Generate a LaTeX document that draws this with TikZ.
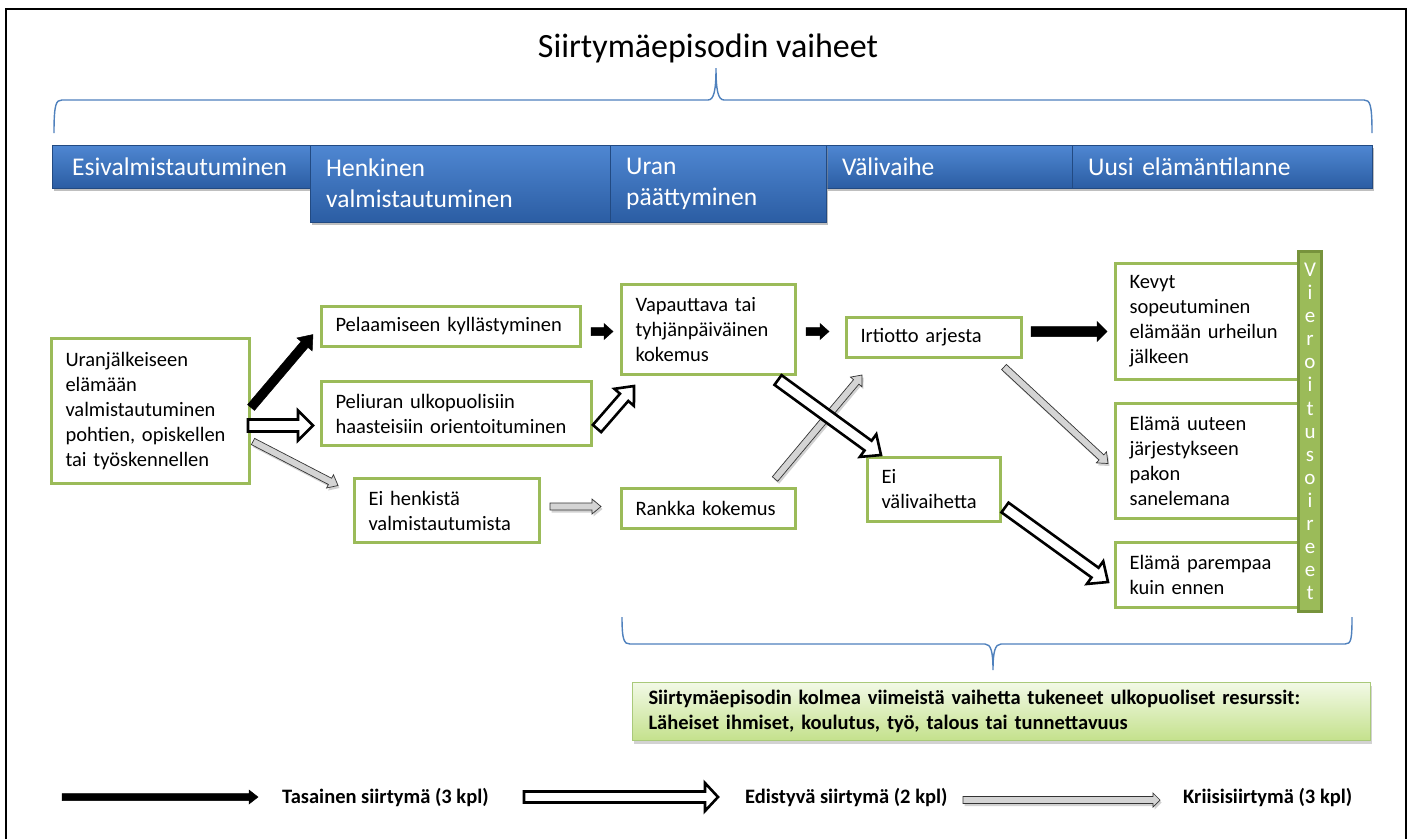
\documentclass[tikz,border=0pt]{standalone}
\usepackage{fontspec}
\setmainfont{Carlito}
\usetikzlibrary{calc,shadows}
\definecolor{ggreen}{HTML}{9BBB59}
\definecolor{gdark}{HTML}{77933C}
\definecolor{bluetop}{HTML}{4F87D2}
\definecolor{bluebot}{HTML}{2B5DA3}
\definecolor{bracecol}{HTML}{4F81BD}
\definecolor{boxtop}{HTML}{F2F9E6}
\definecolor{boxbot}{HTML}{C4E18C}
\definecolor{boxborder}{HTML}{A9C97A}
\newcommand\nodefnt{\fontsize{20.5}{25}\selectfont}
\newcommand\headfnt{\fontsize{25.5}{31}\selectfont}
\newcommand\titlefnt{\fontsize{34}{40}\selectfont}
\newcommand\boldfnt{\fontsize{20.5}{25}\selectfont\bfseries}
\newcommand\vfnt{\fontsize{21}{23.1}\selectfont}
% block arrow: start, end, half shaft, half head, head length, style
\newcommand\blockarr[6]{%
  \path[#6] let \p1=(#1), \p2=(#2),
    \n1={atan2(\y2-\y1,\x2-\x1)},
    \n2={veclen(\x2-\x1,\y2-\y1)} in
    [shift={(\p1)}, rotate=\n1]
    (0,#3) -- ({\n2-#5},#3) -- ({\n2-#5},#4) -- (\n2,0)
    -- ({\n2-#5},-#4) -- ({\n2-#5},-#3) -- (0,-#3) -- cycle;}
\begin{document}
\begin{tikzpicture}[x=1pt,y=-1pt,
  gbox/.style={draw=ggreen, line width=3pt, fill=white, anchor=north west,
    align=left, inner xsep=14pt, inner ysep=0pt, font=\nodefnt},
  hbar/.style={anchor=north west, align=left, inner xsep=16pt, inner ysep=0pt,
    top color=bluetop, bottom color=bluebot, draw=bluebot!80!black, line width=0.4pt,
    text=white, font=\headfnt,
    drop shadow={shadow xshift=1.5pt, shadow yshift=-3pt, fill=black!45, opacity=0.55}},
  vbar/.style={anchor=north west, minimum width=23pt, minimum height=360pt,
    fill=ggreen, draw=gdark, line width=3pt, text=white, align=center,
    font=\vfnt, inner sep=0pt},
  rbox/.style={anchor=north west, align=left, inner xsep=16pt, inner ysep=0pt,
    top color=boxtop, bottom color=boxbot, draw=boxborder, line width=1pt,
    font=\boldfnt,
    drop shadow={shadow xshift=1.5pt, shadow yshift=-3pt, fill=black!35, opacity=0.5}},
  brace/.style={draw=bracecol, line width=1.4pt},
  frame/.style={draw=black, line width=1.6pt},
  blk/.style={fill=black, draw=black, line width=0.5pt, line join=miter},
  wht/.style={fill=white, draw=black, line width=2.6pt, line join=miter},
  gry/.style={fill=black!17, draw=black!80, line width=0.7pt, line join=miter},
  gshad/.style={fill=black!40, opacity=0.45},
  legtext/.style={anchor=west, font=\boldfnt, inner sep=0pt}
]
\useasboundingbox (0,0) rectangle (1413,839);
\fill[white] (0,0) rectangle (1413,839);
\draw[frame] (6,839) -- (6,9) -- (1406,9) -- (1406,839);

% title and brace
\node[font=\titlefnt, inner sep=0pt] (title) at (708,48) {Siirtymäepisodin vaiheet};
\draw[brace] (54,133) .. controls (54,104) and (56,100) .. (62,100) -- (708,100)
  .. controls (714,100) and (716,90) .. (716,68)
  .. controls (716,90) and (718,100) .. (724,100) -- (1364,100)
  .. controls (1370,100) and (1372,104) .. (1372,133);

% phase bars
\node[hbar, minimum width=259pt, minimum height=43pt, text width=219pt, inner xsep=20pt] (H1) at (52,145) {Esivalmistautuminen};
\node[hbar, minimum width=300pt, minimum height=77pt, text width=268pt] (H2) at (310,145) {Henkinen\\valmistautuminen};
\node[hbar, minimum width=246pt, minimum height=43pt, text width=214pt] (H4) at (826,145) {Välivaihe};
\node[hbar, minimum width=300pt, minimum height=43pt, text width=268pt] (H5) at (1072,145) {Uusi elämäntilanne};
\node[hbar, minimum width=216pt, minimum height=77pt, text width=184pt] (H3) at (610,145) {Uran\\päättyminen};

% boxes
\node[gbox, minimum height=145pt, text width=170pt] (A) at (50,337) {Uranjälkeiseen\\elämään\\valmistautuminen\\pohtien, opiskellen\\tai työskennellen};
\node[gbox, minimum height=40pt, text width=231pt] (B) at (320,305) {Pelaamiseen kyllästyminen};
\node[gbox, minimum height=64pt, text width=242pt] (C) at (320,380) {Peliuran ulkopuolisiin\\haasteisiin orientoituminen};
\node[gbox, minimum height=64pt, text width=157pt] (D) at (353,477) {Ei henkistä\\valmistautumista};
\node[gbox, minimum height=90pt, text width=146pt] (E) at (620,283) {Vapauttava tai\\tyhjänpäiväinen\\kokemus};
\node[gbox, minimum height=40pt, text width=146pt] (F) at (620,487) {Rankka kokemus};
\node[gbox, minimum height=40pt, text width=147pt] (G) at (845,316) {Irtiotto arjesta};
\node[gbox, minimum height=64pt, text width=105pt] (H) at (866,456) {Ei\\välivaihetta};
\node[gbox, minimum height=116pt, text width=158pt] (I) at (1114,262) {Kevyt\\sopeutuminen\\elämään urheilun\\jälkeen};
\node[gbox, minimum height=115pt, text width=158pt] (J) at (1114,402) {Elämä uuteen\\järjestykseen\\pakon\\sanelemana};
\node[gbox, minimum height=65pt, text width=158pt] (K) at (1114,541) {Elämä parempaa\\kuin ennen};
\node[vbar] (V) at (1297,250) {V\\i\\e\\r\\o\\i\\t\\u\\s\\o\\i\\r\\e\\e\\t};

% arrow end points
\coordinate (a1s) at ($(A.east)+(0,-3.5)$);
\coordinate (a1e) at ($(B.west)+(-7,8)$);
\coordinate (a2s) at ($(B.east)+(9,5)$);
\coordinate (a2e) at ($(E.west)+(-7,2)$);
\coordinate (a3s) at ($(E.east)+(9,2)$);
\coordinate (a3e) at ($(G.west)+(-16,-6)$);
\coordinate (a4s) at ($(G.east)+(8,-6)$);
\coordinate (a4e) at ($(I.west)+(-7,10)$);
\coordinate (w1s) at ($(A.east)+(-3,14.5)$);
\coordinate (w1e) at ($(C.west)+(-7,12)$);
\coordinate (w2s) at ($(C.east)+(4,15)$);
\coordinate (w2e) at ($(E.south west)+(14,10)$);
\coordinate (w3s) at ($(E.south east)+(-19,4)$);
\coordinate (w3e) at ($(H.north west)+(15,-1)$);
\coordinate (w4s) at ($(H.east)+(3,18)$);
\coordinate (w4e) at ($(K.west)+(-6,7)$);
\coordinate (g1s) at ($(A.east)+(2,30.5)$);
\coordinate (g1e) at ($(D.west)+(-15,-25)$);
\coordinate (g2s) at ($(D.east)+(9,-4)$);
\coordinate (g2e) at ($(F.west)+(-19,-2)$);
\coordinate (g3s) at ($(F.north east)+(-22,-8)$);
\coordinate (g3e) at ($(G.south west)+(17,16)$);
\coordinate (g4s) at ($(G.south east)+(-19,8)$);
\coordinate (g4e) at ($(J.west)+(-6,2.5)$);

% black arrows (smooth transition)
\blockarr{a1s}{a1e}{4.5}{10}{13}{blk}
\blockarr{a2s}{a2e}{4}{8}{9}{blk}
\blockarr{a3s}{a3e}{4}{8}{9}{blk}
\blockarr{a4s}{a4e}{5}{10}{10}{blk}
% gray arrows (crisis transition)
\blockarr{$(g1s)+(1.5,2.5)$}{$(g1e)+(1.5,2.5)$}{3.5}{7.5}{9}{gshad}
\blockarr{$(g2s)+(1.5,2.5)$}{$(g2e)+(1.5,2.5)$}{3.5}{7.5}{9}{gshad}
\blockarr{$(g3s)+(1.5,2.5)$}{$(g3e)+(1.5,2.5)$}{3.5}{7.5}{9}{gshad}
\blockarr{$(g4s)+(1.5,2.5)$}{$(g4e)+(1.5,2.5)$}{3.5}{7.5}{9}{gshad}
\blockarr{g1s}{g1e}{3.5}{7.5}{9}{gry}
\blockarr{g2s}{g2e}{3.5}{7.5}{9}{gry}
\blockarr{g3s}{g3e}{3.5}{7.5}{9}{gry}
\blockarr{g4s}{g4e}{3.5}{7.5}{9}{gry}
% white arrows (progressive transition)
\blockarr{w1s}{w1e}{6}{15}{15}{wht}
\blockarr{w2s}{w2e}{5.5}{13}{15}{wht}
\blockarr{w3s}{w3e}{6}{14}{16}{wht}
\blockarr{w4s}{w4e}{6}{14}{16}{wht}

% bottom brace and resource box
\draw[brace] (622,617) .. controls (622,640) and (624,644) .. (630,644) -- (985,644)
  .. controls (991,644) and (993,652) .. (993,670)
  .. controls (993,652) and (995,644) .. (1001,644) -- (1345,644)
  .. controls (1351,644) and (1352,640) .. (1352,617);
\node[rbox, minimum width=738pt, minimum height=58pt, text width=706pt] (R) at (632,682)
  {Siirtymäepisodin kolmea viimeistä vaihetta tukeneet ulkopuoliset resurssit:\\Läheiset ihmiset, koulutus, työ, talous tai tunnettavuus};

% legend
\coordinate (l1s) at (62,797);
\coordinate (l1e) at (258,797);
\coordinate (l2s) at (524,797);
\coordinate (l2e) at (718,797);
\coordinate (l3s) at (963,800);
\coordinate (l3e) at (1160,800);
\blockarr{l1s}{l1e}{3.5}{7}{9}{blk}
\blockarr{l2s}{l2e}{5.5}{14}{13}{wht}
\blockarr{$(l3s)+(1.5,2.5)$}{$(l3e)+(1.5,2.5)$}{3.5}{7}{7}{gshad}
\blockarr{l3s}{l3e}{3.5}{7}{7}{gry}
\node[legtext] (T1) at (282,797) {Tasainen siirtymä (3 kpl)};
\node[legtext] (T2) at (745,797) {Edistyvä siirtymä (2 kpl)};
\node[legtext] (T3) at (1183,797) {Kriisisiirtymä (3 kpl)};
\end{tikzpicture}
\end{document}
